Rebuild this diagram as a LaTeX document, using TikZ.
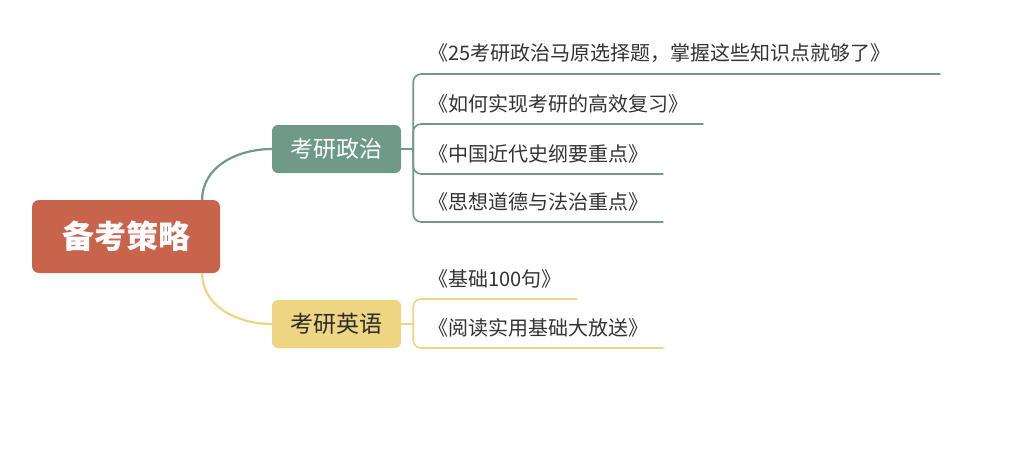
\documentclass[tikz,border=0pt]{standalone}
\usepackage{fontspec}
\setmainfont{Noto Sans CJK SC}
\usepackage{xcolor}

\definecolor{rootred}{HTML}{C8644B}
\definecolor{polgreen}{HTML}{6F9A89}
\definecolor{engyellow}{HTML}{EDD582}
\definecolor{engtext}{HTML}{2B2B2B}
\definecolor{itemgray}{HTML}{333333}

\tikzset{
    rootbox/.style={fill=rootred, rounded corners=7pt, minimum width=188pt, minimum height=73pt,
        text=white, font=\fontsize{32}{32}\selectfont\bfseries},
    topicbox/.style={rounded corners=6pt, minimum width=129pt, minimum height=48pt,
        font=\fontsize{23}{23}\selectfont},
    item/.style={anchor=south west, inner xsep=15pt, inner ysep=11pt, text width=#1,
        align=left, text=itemgray, font=\fontsize{20}{20}\selectfont},
    polline/.style={draw=polgreen, line width=1.6pt},
    engline/.style={draw=engyellow, line width=1.6pt},
}

\begin{document}
\begin{tikzpicture}[x=1pt,y=-1pt]
    \useasboundingbox (0,0) rectangle (1033,448);

    % centre and the two branches
    \node[rootbox] (root) at (126,236.5) {备考策略};
    \node[topicbox,fill=polgreen,text=white] (pol) at (336.5,149) {考研政治};
    \node[topicbox,fill=engyellow,text=engtext] (eng) at (336.5,324) {考研英语};

    \draw[polline,line width=2.2pt] ([xshift=-18pt]root.north east) to[out=90,in=180] (pol.west);
    \draw[engline,line width=2.2pt] ([xshift=-18pt]root.south east) to[out=-90,in=180] (eng.west);

    % politics
    \node[item=497pt] (pol1) at (413,74) {《25考研政治马原选择题，掌握这些知识点就够了》};
    \node[item=260pt] (pol2) at (413,124) {《如何实现考研的高效复习》};
    \node[item=220pt] (pol3) at (413,174) {《中国近代史纲要重点》};
    \node[item=220pt] (pol4) at (413,222) {《思想道德与法治重点》};

    \draw[polline] (pol.east) -- ++(12,0) coordinate (polfork);
    \foreach \i in {1,...,4}
        \draw[polline,rounded corners=8pt] (polfork) |- (pol\i.south east);

    % english
    \node[item=134pt] (eng1) at (413,299) {《基础100句》};
    \node[item=220pt] (eng2) at (413,348) {《阅读实用基础大放送》};

    \draw[engline] (eng.east) -- ++(12,0) coordinate (engfork);
    \foreach \i in {1,2}
        \draw[engline,rounded corners=8pt] (engfork) |- (eng\i.south east);
\end{tikzpicture}
\end{document}
